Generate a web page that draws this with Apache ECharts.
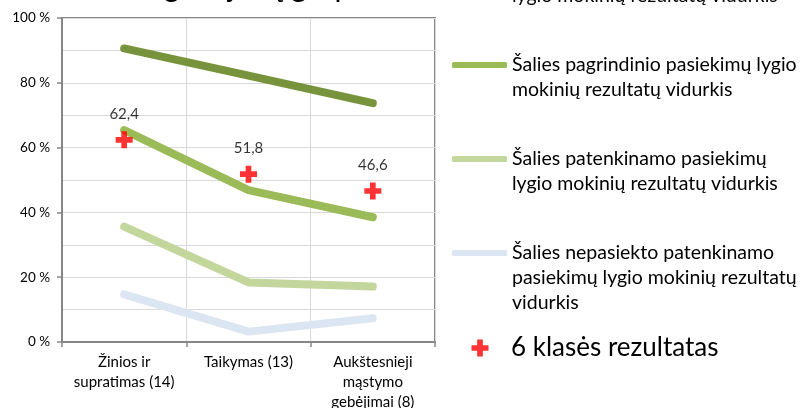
<!DOCTYPE html>
<html>
<head>
<meta charset="utf-8">
<script src="https://cdn.jsdelivr.net/npm/echarts@6/dist/echarts.min.js"></script>
<style>
    html, body {margin: 0; padding: 0; background: #fff;}
    #chart {width: 800px; height: 408px;}
</style>
</head>
<body>
<div id="chart"></div>
<script>
// data
let categories = ['Žinios ir\nsupratimas (14)', 'Taikymas (13)', 'Aukštesnieji\nmąstymo\ngebėjimai (8)'];
let seriesNames = [
    'Šalies aukštesniojo pasiekimų lygio mokinių rezultatų vidurkis',
    'Šalies pagrindinio pasiekimų lygio mokinių rezultatų vidurkis',
    'Šalies patenkinamo pasiekimų lygio mokinių rezultatų vidurkis',
    'Šalies nepasiekto patenkinamo pasiekimų lygio mokinių rezultatų vidurkis',
    '6 klasės rezultatas'
];
let legendLabels = [
    'Šalies aukštesniojo pasiekimų\nlygio mokinių rezultatų vidurkis',
    'Šalies pagrindinio pasiekimų lygio\nmokinių rezultatų vidurkis',
    'Šalies patenkinamo pasiekimų\nlygio mokinių rezultatų vidurkis',
    'Šalies nepasiekto patenkinamo\npasiekimų lygio mokinių rezultatų\nvidurkis',
    '6 klasės rezultatas'
];
let aukstesnysis = [90.6, 82.2, 73.7];
let pagrindinis = [65.4, 46.9, 38.5];
let patenkinamas = [35.6, 18.4, 17.1];
let nepasiektas = [14.7, 3.2, 7.3];
let klase6 = [62.4, 51.8, 46.6];
let yMax = 100;
let yStep = 20;

let colors = ['#77933C', '#9BBB59', '#C3D69B', '#DCE6F2', '#FF0000'];
let font = 'Lato, "Open Sans", sans-serif';
let cross = 'path://M3,0H6V3H9V6H6V9H3V6H0V3H3Z';
let gridColor = '#d9d9d9';
let axisColor = '#878787';

let chart = echarts.init(document.getElementById('chart'));

let lineSeries = function (idx, data) {
    return {
        name: seriesNames[idx], type: 'line', data: data,
        symbol: 'none', showSymbol: false,
        lineStyle: {color: colors[idx], width: 8, cap: 'round', join: 'round'},
        itemStyle: {color: colors[idx]}
    };
};

// one legend block per entry; blank lines on top keep the icon level with the first text line
let legendAt = function (idx, iconY) {
    let lines = legendLabels[idx].split('\n');
    let pad = [];
    for (let i = 1; i < lines.length; i++) pad.push(' ');
    let txt = pad.concat(lines).join('\n');
    let boxH = (lines.length * 2 - 1) * 25;
    return {
        data: [seriesNames[idx]], left: 452, top: iconY - boxH / 2, padding: 0,
        itemWidth: 55, itemHeight: 6, icon: 'roundRect', selectedMode: false,
        formatter: function () { return txt; },
        textStyle: {fontFamily: font, fontSize: 19.5, lineHeight: 25, color: '#000'}
    };
};

let option = {
    animation: false,
    title: {
        text: 'Rezultatai gebėjimų grupėse', left: 27, top: -28, padding: 0,
        textStyle: {fontFamily: font, fontSize: 30, lineHeight: 30, fontWeight: 'normal', color: '#000'}
    },
    legend: [
        legendAt(0, -29),
        legendAt(1, 65),
        legendAt(2, 159),
        legendAt(3, 253),
        {
            data: [seriesNames[4]], left: 471.5, top: 348 - 15, padding: 0,
            itemWidth: 17, itemHeight: 17, icon: cross, selectedMode: false,
            formatter: function () { return '{s|}' + legendLabels[4]; },
            textStyle: {
                fontFamily: font, fontSize: 26, lineHeight: 30, color: '#000',
                rich: {s: {width: 17.5}}
            }
        }
    ],
    grid: {
        left: 62, top: 18, right: 365, bottom: 66,
        outerBoundsMode: 'none', containLabel: false,
        show: true, borderColor: axisColor, borderWidth: 2
    },
    xAxis: {
        type: 'category', data: categories, boundaryGap: true,
        axisLine: {lineStyle: {color: axisColor, width: 2}},
        axisTick: {show: true, length: 5, lineStyle: {color: axisColor, width: 1.5}},
        axisLabel: {color: '#000', fontFamily: font, fontSize: 15, lineHeight: 20, margin: 10, interval: 0},
        splitLine: {show: true, lineStyle: {color: gridColor}}
    },
    yAxis: {
        type: 'value', min: 0, max: yMax, interval: yStep,
        axisLine: {show: true, lineStyle: {color: axisColor, width: 2}},
        axisTick: {show: true, length: 5, lineStyle: {color: axisColor, width: 1.5}},
        axisLabel: {formatter: '{value} %', color: '#000', fontFamily: font, fontSize: 13.5, margin: 12},
        splitLine: {lineStyle: {color: gridColor}},
        minorTick: {show: false, splitNumber: 2},
        minorSplitLine: {show: true, lineStyle: {color: gridColor}}
    },
    series: [
        lineSeries(0, aukstesnysis),
        lineSeries(1, pagrindinis),
        lineSeries(2, patenkinamas),
        lineSeries(3, nepasiektas),
        {
            name: seriesNames[4], type: 'scatter', data: klase6,
            symbol: cross, symbolSize: 17,
            itemStyle: {color: colors[4]},
            label: {
                show: true, position: 'top', distance: 10, color: '#000',
                fontFamily: font, fontSize: 15,
                formatter: function (p) { return String(p.value).replace('.', ','); }
            },
            z: 5
        }
    ]
};
chart.setOption(option);
</script>
</body>
</html>
